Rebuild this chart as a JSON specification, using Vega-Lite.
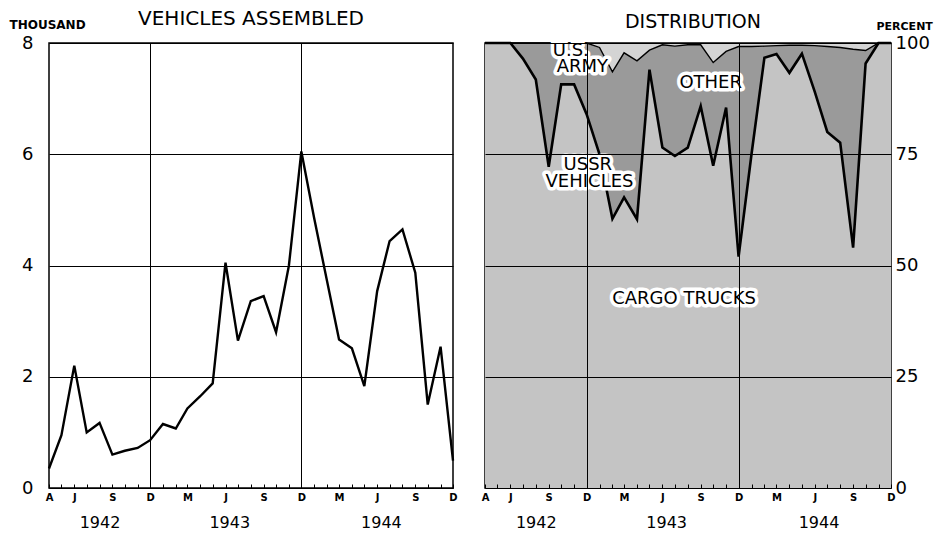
{
  "$schema": "https://vega.github.io/schema/vega-lite/v6.json",
  "background": "white",
  "padding": {"left": 8, "top": 8, "right": 0, "bottom": 0},
  "spacing": 20,
  "config": {
    "font": "DejaVu Sans",
    "view": {"stroke": "black", "strokeWidth": 1.5},
    "axis": {"labelColor": "black", "titleColor": "black", "labelFont": "DejaVu Sans", "titleFont": "DejaVu Sans"},
    "title": {"color": "black", "font": "DejaVu Sans"}
  },
  "datasets": {
    "monthly": [
      {"month": "1942-04-01", "assembled": 0.35, "cargo_trucks": 100, "cargo_and_other": 100},
      {"month": "1942-05-01", "assembled": 0.95, "cargo_trucks": 100, "cargo_and_other": 100},
      {"month": "1942-06-01", "assembled": 2.2, "cargo_trucks": 100, "cargo_and_other": 100},
      {"month": "1942-07-01", "assembled": 1.0, "cargo_trucks": 96.5, "cargo_and_other": 100},
      {"month": "1942-08-01", "assembled": 1.17, "cargo_trucks": 91.8, "cargo_and_other": 100},
      {"month": "1942-09-01", "assembled": 0.6, "cargo_trucks": 72.2, "cargo_and_other": 100},
      {"month": "1942-10-01", "assembled": 0.67, "cargo_trucks": 90.7, "cargo_and_other": 100},
      {"month": "1942-11-01", "assembled": 0.72, "cargo_trucks": 90.7, "cargo_and_other": 100},
      {"month": "1942-12-01", "assembled": 0.86, "cargo_trucks": 84, "cargo_and_other": 100},
      {"month": "1943-01-01", "assembled": 1.15, "cargo_trucks": 75, "cargo_and_other": 99},
      {"month": "1943-02-01", "assembled": 1.07, "cargo_trucks": 60.5, "cargo_and_other": 93.5},
      {"month": "1943-03-01", "assembled": 1.43, "cargo_trucks": 65.3, "cargo_and_other": 97.8},
      {"month": "1943-04-01", "assembled": 1.65, "cargo_trucks": 60.4, "cargo_and_other": 96},
      {"month": "1943-05-01", "assembled": 1.88, "cargo_trucks": 94, "cargo_and_other": 98.4},
      {"month": "1943-06-01", "assembled": 4.05, "cargo_trucks": 76.5, "cargo_and_other": 99.6},
      {"month": "1943-07-01", "assembled": 2.65, "cargo_trucks": 74.6, "cargo_and_other": 99.3},
      {"month": "1943-08-01", "assembled": 3.36, "cargo_trucks": 76.5, "cargo_and_other": 99.6},
      {"month": "1943-09-01", "assembled": 3.45, "cargo_trucks": 85.8, "cargo_and_other": 99.6},
      {"month": "1943-10-01", "assembled": 2.8, "cargo_trucks": 72.4, "cargo_and_other": 95.6},
      {"month": "1943-11-01", "assembled": 4.0, "cargo_trucks": 85.5, "cargo_and_other": 98.1},
      {"month": "1943-12-01", "assembled": 6.05, "cargo_trucks": 52, "cargo_and_other": 99.2},
      {"month": "1944-01-01", "assembled": 4.85, "cargo_trucks": 75, "cargo_and_other": 99.2},
      {"month": "1944-02-01", "assembled": 3.72, "cargo_trucks": 96.7, "cargo_and_other": 99.3},
      {"month": "1944-03-01", "assembled": 2.67, "cargo_trucks": 97.5, "cargo_and_other": 99.4},
      {"month": "1944-04-01", "assembled": 2.51, "cargo_trucks": 93.3, "cargo_and_other": 99.5},
      {"month": "1944-05-01", "assembled": 1.83, "cargo_trucks": 97.6, "cargo_and_other": 99.5},
      {"month": "1944-06-01", "assembled": 3.54, "cargo_trucks": 89, "cargo_and_other": 99.4},
      {"month": "1944-07-01", "assembled": 4.44, "cargo_trucks": 80, "cargo_and_other": 99.2},
      {"month": "1944-08-01", "assembled": 4.65, "cargo_trucks": 77.6, "cargo_and_other": 99},
      {"month": "1944-09-01", "assembled": 3.87, "cargo_trucks": 54, "cargo_and_other": 98.6},
      {"month": "1944-10-01", "assembled": 1.5, "cargo_trucks": 95.4, "cargo_and_other": 98.3},
      {"month": "1944-11-01", "assembled": 2.54, "cargo_trucks": 100, "cargo_and_other": 100},
      {"month": "1944-12-01", "assembled": 0.49, "cargo_trucks": 100, "cargo_and_other": 100}
    ],
    "notes": [
      {"label": "U.S.", "month": "1942-10-24", "pct": 98.2},
      {"label": "ARMY", "month": "1942-11-21", "pct": 94.6},
      {"label": "USSR", "month": "1942-12-04", "pct": 72.6},
      {"label": "VEHICLES", "month": "1942-12-08", "pct": 68.8},
      {"label": "OTHER", "month": "1943-09-25", "pct": 91.1},
      {"label": "CARGO    TRUCKS", "month": "1943-07-23", "pct": 42.4}
    ]
  },
  "hconcat": [
    {
      "width": 404,
      "height": 445,
      "title": {"text": "VEHICLES   ASSEMBLED", "fontSize": 20, "fontWeight": "normal", "frame": "group", "anchor": "middle", "baseline": "alphabetic", "offset": -27},
      "data": {"name": "monthly"},
      "layer": [
        {
          "mark": {"type": "line", "color": "black", "strokeWidth": 2.4},
          "encoding": {
            "x": {
              "field": "month", "type": "temporal",
              "scale": {"type": "utc", "domain": [{"year": 1942, "month": 4, "date": 1, "utc": true}, {"year": 1944, "month": 12, "date": 1, "utc": true}]},
              "axis": {
                "orient": "bottom",
                "tickCount": {"interval": "month", "step": 1},
                "labelExpr": "(utcmonth(datum.value) % 3 == 2 || (utcyear(datum.value) == 1942 && utcmonth(datum.value) == 3)) ? slice(utcFormat(datum.value, '%b'), 0, 1) : ''",
                "labelFontSize": 10, "labelFontWeight": "bold", "labelPadding": 8, "labelFlush": false, "labelOverlap": false,
                "ticks": true, "tickColor": "black", "tickWidth": 1, "tickSize": -4,
                "domain": false,
                "grid": true, "gridColor": "black", "gridWidth": 1,
                "gridOpacity": {"condition": {"test": "utcmonth(datum.value) == 11 && utcyear(datum.value) < 1944", "value": 1}, "value": 0},
                "title": null
              }
            },
            "y": {
              "field": "assembled", "type": "quantitative",
              "scale": {"domain": [0, 8], "nice": false},
              "axis": {
                "values": [0, 2, 4, 6, 8], "format": "d", "grid": true, "gridColor": "black", "gridWidth": 1, "gridOpacity": 1,
                "ticks": false, "domain": false, "labelFontSize": 18, "labelPadding": 16,
                "title": "THOUSAND", "titleAngle": 0, "titleFontSize": 12, "titleFontWeight": "bold",
                "titleAlign": "left", "titleBaseline": "alphabetic", "titleX": -40, "titleY": -15
              }
            }
          }
        },
        {
          "mark": {"type": "line", "strokeOpacity": 0},
          "encoding": {
            "x": {
              "field": "month", "type": "temporal",
              "axis": {
                "orient": "bottom",
                "values": [{"year": 1942, "month": 8, "date": 1, "utc": true}, {"year": 1943, "month": 6, "date": 10, "utc": true}, {"year": 1944, "month": 6, "date": 10, "utc": true}],
                "labelExpr": "utcFormat(datum.value, '%Y')",
                "labelFontSize": 16, "labelPadding": 26, "labelFlush": false, "labelOverlap": false,
                "ticks": false, "domain": false, "grid": false, "title": null
              }
            },
            "y": {"field": "assembled", "type": "quantitative"}
          }
        }
      ],
      "resolve": {"axis": {"x": "independent"}}
    },
    {
      "width": 406,
      "height": 445,
      "title": {"text": "DISTRIBUTION", "fontSize": 19, "fontWeight": "normal", "frame": "group", "anchor": "middle", "baseline": "alphabetic", "offset": -27, "dx": 5},
      "data": {"name": "monthly"},
      "layer": [
        {
          "mark": {"type": "area", "color": "#c4c4c4"},
          "encoding": {
            "x": {
              "field": "month", "type": "temporal",
              "scale": {"type": "utc", "domain": [{"year": 1942, "month": 4, "date": 1, "utc": true}, {"year": 1944, "month": 12, "date": 1, "utc": true}]},
              "axis": {
                "orient": "bottom",
                "tickCount": {"interval": "month", "step": 1},
                "labelExpr": "(utcmonth(datum.value) % 3 == 2 || (utcyear(datum.value) == 1942 && utcmonth(datum.value) == 3)) ? slice(utcFormat(datum.value, '%b'), 0, 1) : ''",
                "labelFontSize": 10, "labelFontWeight": "bold", "labelPadding": 8, "labelFlush": false, "labelOverlap": false,
                "ticks": true, "tickColor": "black", "tickWidth": 1, "tickSize": -4,
                "domain": false,
                "grid": true, "gridColor": "black", "gridWidth": 1,
                "gridOpacity": {"condition": {"test": "utcmonth(datum.value) == 11 && utcyear(datum.value) < 1944", "value": 1}, "value": 0},
                "zindex": 1,
                "title": null
              }
            },
            "y": {
              "field": "cargo_trucks", "type": "quantitative", "stack": null,
              "scale": {"domain": [0, 100], "nice": false},
              "axis": {
                "orient": "right", "values": [0, 25, 50, 75, 100], "grid": true, "gridColor": "black", "gridWidth": 1, "zindex": 1,
                "ticks": false, "domain": false, "labelFontSize": 18, "labelPadding": 4,
                "title": "PERCENT", "titleAngle": 0, "titleFontSize": 11, "titleFontWeight": "bold",
                "titleAlign": "left", "titleBaseline": "alphabetic", "titleX": -15, "titleY": -14
              }
            }
          }
        },
        {
          "mark": {"type": "area", "color": "#9a9a9a"},
          "encoding": {
            "x": {
              "field": "month", "type": "temporal",
              "axis": {
                "orient": "bottom",
                "values": [{"year": 1942, "month": 8, "date": 1, "utc": true}, {"year": 1943, "month": 6, "date": 10, "utc": true}, {"year": 1944, "month": 6, "date": 10, "utc": true}],
                "labelExpr": "utcFormat(datum.value, '%Y')",
                "labelFontSize": 16, "labelPadding": 26, "labelFlush": false, "labelOverlap": false,
                "ticks": false, "domain": false, "grid": false, "title": null
              }
            },
            "y": {"field": "cargo_and_other", "type": "quantitative"},
            "y2": {"field": "cargo_trucks"}
          }
        },
        {
          "mark": {"type": "area", "color": "#d4d4d4"},
          "encoding": {
            "x": {"field": "month", "type": "temporal", "axis": null},
            "y": {"field": "cargo_and_other", "type": "quantitative"},
            "y2": {"datum": 100}
          }
        },
        {
          "mark": {"type": "line", "color": "black", "strokeWidth": 1.4},
          "encoding": {
            "x": {"field": "month", "type": "temporal", "axis": null},
            "y": {"field": "cargo_and_other", "type": "quantitative"}
          }
        },
        {
          "mark": {"type": "line", "color": "black", "strokeWidth": 2.6},
          "encoding": {
            "x": {"field": "month", "type": "temporal", "axis": null},
            "y": {"field": "cargo_trucks", "type": "quantitative"}
          }
        },
        {
          "data": {"name": "notes"},
          "mark": {"type": "text", "fontSize": 18, "fill": "white", "stroke": "white", "strokeWidth": 7, "strokeJoin": "round"},
          "encoding": {
            "x": {"field": "month", "type": "temporal", "axis": null},
            "y": {"field": "pct", "type": "quantitative"},
            "text": {"field": "label"}
          }
        },
        {
          "data": {"name": "notes"},
          "mark": {"type": "text", "fontSize": 18, "color": "black"},
          "encoding": {
            "x": {"field": "month", "type": "temporal", "axis": null},
            "y": {"field": "pct", "type": "quantitative"},
            "text": {"field": "label"}
          }
        }
      ],
      "resolve": {"axis": {"x": "independent"}}
    }
  ]
}
